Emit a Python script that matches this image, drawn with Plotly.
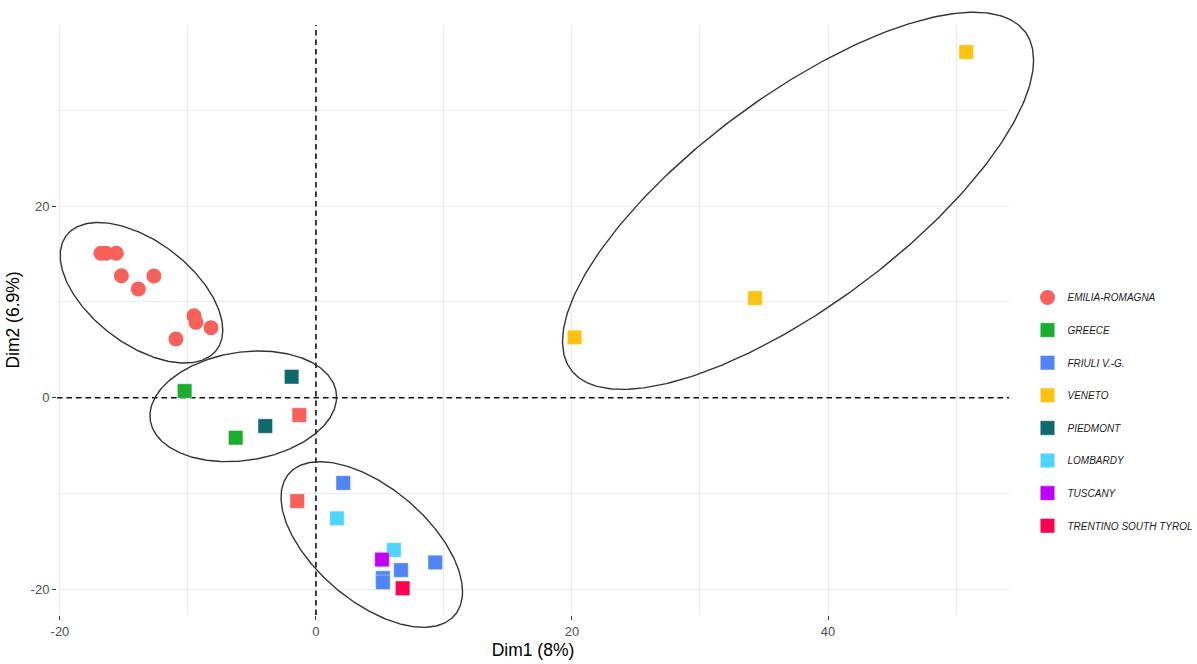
import numpy as np
import plotly.graph_objects as go

# ---- PCA scores, Dim1 / Dim2 ----
regions = ["EMILIA-ROMAGNA", "GREECE", "FRIULI V.-G.", "VENETO",
           "PIEDMONT", "LOMBARDY", "TUSCANY", "TRENTINO SOUTH TYROL"]
region_colors = ["#F8605A", "#1BAE2E", "#4F86F7", "#FFC30F",
                 "#0E6B6B", "#4DD4FF", "#BF00FF", "#FF0052"]

emilia_x = [-16.8, -16.4, -15.6, -15.2, -12.66, -13.88, -9.53, -9.375, -8.2, -10.94]
emilia_y = [15.08, 15.08, 15.08, 12.74, 12.71, 11.35, 8.56, 7.87, 7.31, 6.13]

emilia_sq_x = [-1.3, -1.46]
emilia_sq_y = [-1.81, -10.8]

greece_x = [-10.26, -6.27]
greece_y = [0.70, -4.18]

friuli_x = [2.13, 6.64, 5.23, 5.23, 9.32]
friuli_y = [-8.9, -18.0, -18.83, -19.28, -17.2]

veneto_x = [50.8, 34.3, 20.2]
veneto_y = [36.1, 10.4, 6.3]

piedmont_x = [-1.9, -3.96]
piedmont_y = [2.19, -2.96]

lombardy_x = [1.64, 6.09]
lombardy_y = [-12.6, -15.9]

tuscany_x = [5.16]
tuscany_y = [-16.9]

trentino_x = [6.77]
trentino_y = [-19.9]

# ---- cluster ellipses: centre, half-extent along each axis, correlation ----
ell_cx = [-13.63, -5.68, 4.36, 37.66]
ell_cy = [10.96, -0.90, -15.33, 20.56]
ell_wx = [6.35, 7.29, 7.09, 18.40]
ell_wy = [7.34, 5.78, 8.65, 19.69]
ell_rho = [-0.53, 0.17, -0.57, 0.746]

x_range = [-20.23, 54.14]
y_range = [-22.69, 38.92]

# The ellipses may run past the panel, so they live on a second, larger
# pair of axes sharing the same data-to-pixel scale as the panel.
W, H = 1197, 664
M_L, M_R, M_T, M_B = 57, 157, 8, 30
plot_w = W - M_L - M_R
plot_h = H - M_T - M_B
panel_left, panel_right, panel_top, panel_bottom = 57, 1009, 25, 615
dom_x = [(panel_left - M_L) / plot_w, (panel_right - M_L) / plot_w]
dom_y = [(H - M_B - panel_bottom) / plot_h, (H - M_B - panel_top) / plot_h]

x_scale = (x_range[1] - x_range[0]) / (dom_x[1] - dom_x[0])
y_scale = (y_range[1] - y_range[0]) / (dom_y[1] - dom_y[0])
x2_range = [x_range[0] - dom_x[0] * x_scale, x_range[1] + (1 - dom_x[1]) * x_scale]
y2_range = [y_range[0] - dom_y[0] * y_scale, y_range[1] + (1 - dom_y[1]) * y_scale]

fig = go.Figure()

# reference lines through the origin
dash_line = dict(color="#111111", width=1.6, dash="5.5px,4px")
fig.add_trace(go.Scatter(x=[0, 0], y=y_range, mode="lines", showlegend=False,
                         hoverinfo="skip", line=dash_line))
fig.add_trace(go.Scatter(x=x_range, y=[0, 0], mode="lines", showlegend=False,
                         hoverinfo="skip", line=dash_line))

series = [
    (emilia_x, emilia_y, "circle"),
    (greece_x, greece_y, "square"),
    (friuli_x, friuli_y, "square"),
    (veneto_x, veneto_y, "square"),
    (piedmont_x, piedmont_y, "square"),
    (lombardy_x, lombardy_y, "square"),
    (tuscany_x, tuscany_y, "square"),
    (trentino_x, trentino_y, "square"),
]

edge = dict(width=0.6, color="rgba(255,255,255,0.7)")

for name, color, (xs, ys, sym) in zip(regions, region_colors, series):
    fig.add_trace(go.Scatter(
        x=xs, y=ys, mode="markers", name=name, legendgroup=name,
        marker=dict(symbol=sym, size=15 if sym == "circle" else 14.5,
                    color=color, line=edge if sym == "square" else dict(width=0)),
    ))

# Emilia-Romagna samples in the square series
fig.add_trace(go.Scatter(
    x=emilia_sq_x, y=emilia_sq_y, mode="markers", name=regions[0],
    legendgroup=regions[0], showlegend=False,
    marker=dict(symbol="square", size=14.5, color=region_colors[0], line=edge),
))

# cluster ellipses
t = np.linspace(0, 2 * np.pi, 361)
for cx, cy, wx, wy, r in zip(ell_cx, ell_cy, ell_wx, ell_wy, ell_rho):
    ex = cx + wx * np.cos(t)
    ey = cy + wy * (r * np.cos(t) + np.sqrt(1 - r * r) * np.sin(t))
    fig.add_trace(go.Scatter(x=ex, y=ey, mode="lines", showlegend=False,
                             hoverinfo="skip", xaxis="x2", yaxis="y2",
                             line=dict(color="#333333", width=1.4)))

axis_common = dict(
    showgrid=True, gridcolor="#EBEBEB", gridwidth=1.1,
    zeroline=False, showline=False,
    ticks="outside", ticklen=4, tickwidth=1.1, tickcolor="#333333",
    tickfont=dict(size=13, color="#4D4D4D"),
    automargin=False,
)

fig.update_layout(
    width=W, height=H,
    margin=dict(l=M_L, r=M_R, t=M_T, b=M_B, autoexpand=False),
    plot_bgcolor="rgba(0,0,0,0)", paper_bgcolor="white",
    font=dict(family="Liberation Sans, Arial, sans-serif", color="#000000"),
    xaxis=dict(
        domain=dom_x, anchor="y",
        range=x_range, tickmode="array", tickvals=[-20, 0, 20, 40],
        ticktext=["-20", "0", "20", "40"],
        minor=dict(tickmode="array", tickvals=[-10, 10, 30, 50], showgrid=True,
                   gridcolor="#EBEBEB", gridwidth=0.6, ticks=""),
        title=dict(text="Dim1 (8%)", font=dict(size=17.5), standoff=6),
        **axis_common,
    ),
    yaxis=dict(
        domain=dom_y, anchor="x",
        range=y_range, tickmode="array", tickvals=[-20, 0, 20],
        ticktext=["-20", "0", "20"],
        minor=dict(tickmode="array", tickvals=[-10, 10, 30], showgrid=True,
                   gridcolor="#EBEBEB", gridwidth=0.6, ticks=""),
        title=dict(text="Dim2 (6.9%)", font=dict(size=17.5), standoff=6),
        **axis_common,
    ),
    xaxis2=dict(domain=[0, 1], anchor="y2", range=x2_range, visible=False,
                fixedrange=True),
    yaxis2=dict(domain=[0, 1], anchor="x2", range=y2_range, visible=False,
                fixedrange=True),
    legend=dict(
        x=(1027.5 - M_L) / plot_w, xanchor="left",
        y=(H - M_B - 283) / plot_h, yanchor="top",
        traceorder="grouped", tracegroupgap=13.6,
        font=dict(size=10, style="italic", color="#1A1A1A"),
        bgcolor="rgba(0,0,0,0)", itemsizing="trace",
    ),
    showlegend=True,
)

fig.write_html("out.html")
